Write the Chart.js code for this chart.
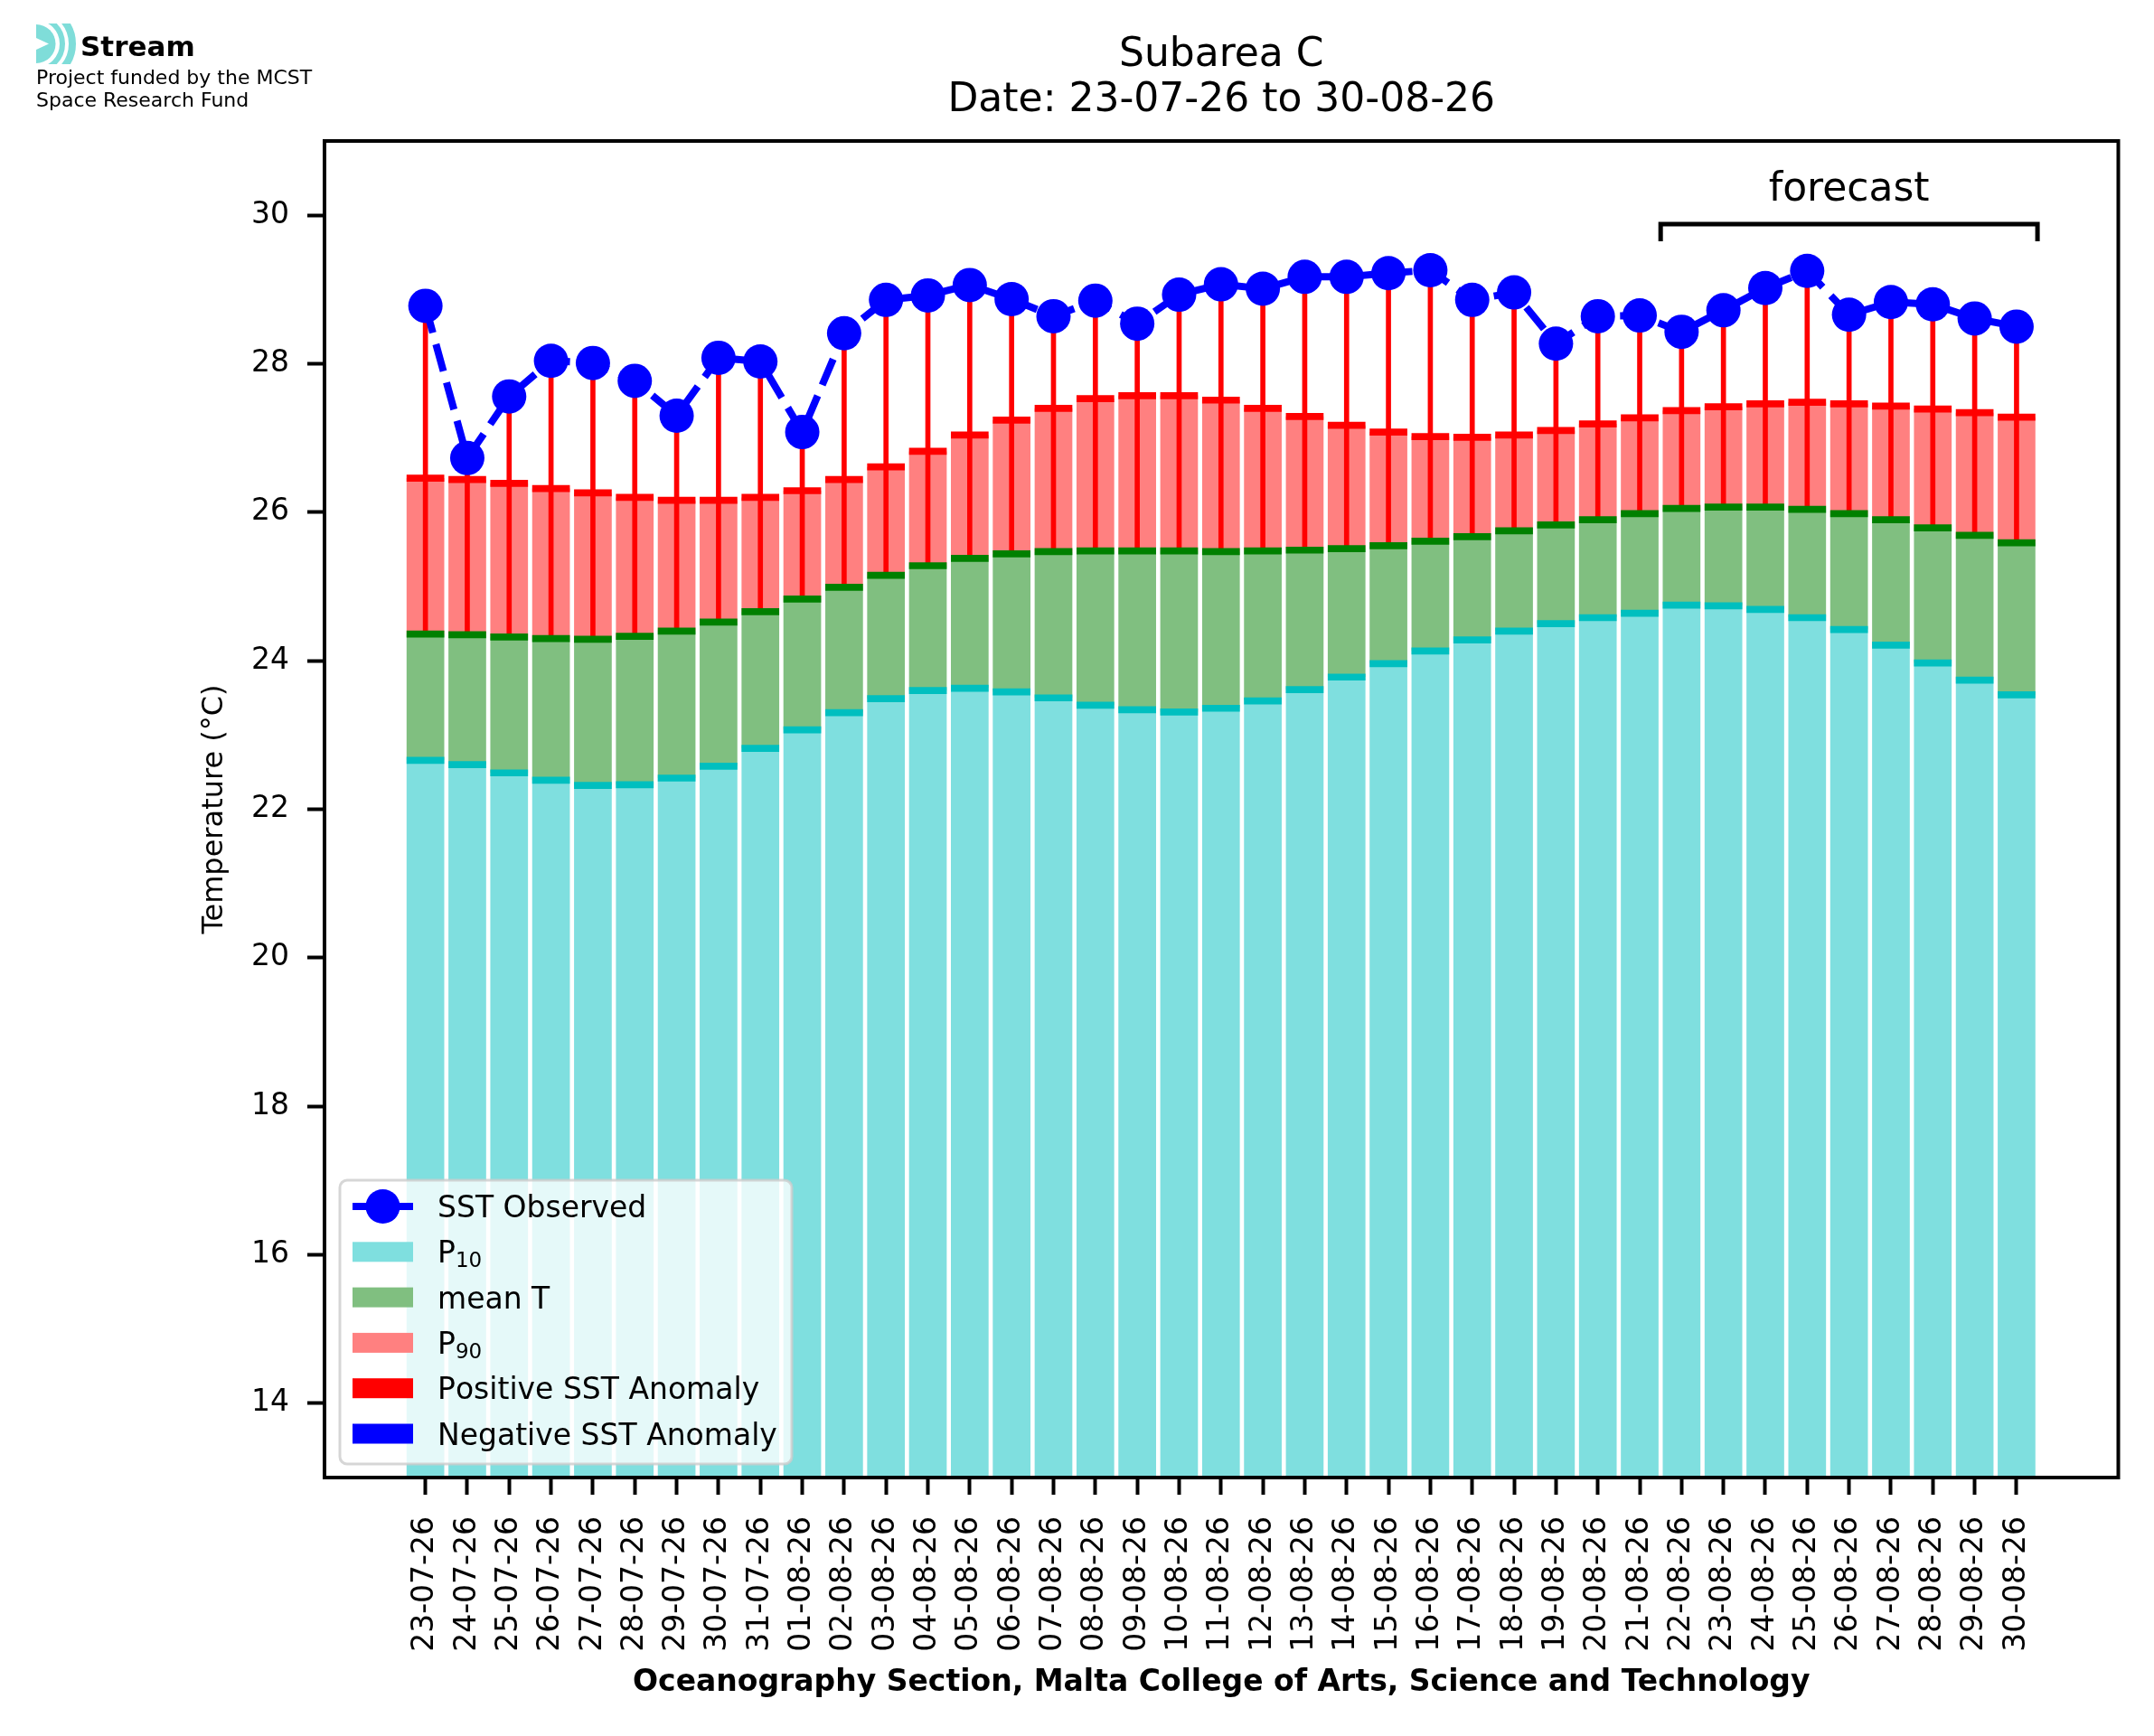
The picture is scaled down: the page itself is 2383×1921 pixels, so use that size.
<!DOCTYPE html>
<html>
<head>
<meta charset="utf-8">
<title>Subarea C</title>
<script src="https://cdn.jsdelivr.net/npm/chart.js@4.4.1/dist/chart.umd.min.js"></script>
<style>
  html, body { margin: 0; padding: 0; background: #fff; overflow: hidden; }
  canvas { display: block; }
</style>
</head>
<body>
<canvas id="sstChart" width="2383" height="1921"></canvas>
<script>
var dates = ['23-07-26', '24-07-26', '25-07-26', '26-07-26', '27-07-26', '28-07-26', '29-07-26',
  '30-07-26', '31-07-26', '01-08-26', '02-08-26', '03-08-26', '04-08-26', '05-08-26', '06-08-26',
  '07-08-26', '08-08-26', '09-08-26', '10-08-26', '11-08-26', '12-08-26', '13-08-26', '14-08-26',
  '15-08-26', '16-08-26', '17-08-26', '18-08-26', '19-08-26', '20-08-26', '21-08-26', '22-08-26',
  '23-08-26', '24-08-26', '25-08-26', '26-08-26', '27-08-26', '28-08-26', '29-08-26', '30-08-26'];

var sstObserved = [28.78, 26.73, 27.56, 28.04, 28.01, 27.77, 27.30, 28.08, 28.03, 27.08,
  28.41, 28.86, 28.92, 29.06, 28.87, 28.64, 28.85, 28.54, 28.93, 29.07,
  29.01, 29.17, 29.17, 29.22, 29.26, 28.86, 28.96, 28.27, 28.64, 28.65,
  28.43, 28.72, 29.02, 29.25, 28.66, 28.83, 28.80, 28.61, 28.50];

var p10 = [22.66, 22.60, 22.49, 22.39, 22.32, 22.33, 22.42, 22.58, 22.82, 23.07,
  23.30, 23.49, 23.60, 23.63, 23.58, 23.50, 23.40, 23.34, 23.31, 23.36,
  23.46, 23.61, 23.78, 23.96, 24.13, 24.28, 24.40, 24.50, 24.58, 24.64,
  24.75, 24.74, 24.69, 24.58, 24.42, 24.21, 23.97, 23.74, 23.54];

var meanT = [24.36, 24.35, 24.32, 24.30, 24.29, 24.33, 24.40, 24.52, 24.66, 24.83,
  24.99, 25.15, 25.28, 25.38, 25.44, 25.47, 25.48, 25.48, 25.48, 25.47,
  25.48, 25.49, 25.51, 25.55, 25.61, 25.67, 25.75, 25.83, 25.90, 25.98,
  26.05, 26.07, 26.07, 26.04, 25.98, 25.90, 25.79, 25.69, 25.59];

var p90 = [26.46, 26.44, 26.39, 26.32, 26.26, 26.20, 26.16, 26.16, 26.20, 26.29,
  26.44, 26.61, 26.82, 27.04, 27.24, 27.40, 27.53, 27.57, 27.57, 27.51,
  27.40, 27.29, 27.17, 27.08, 27.02, 27.01, 27.04, 27.10, 27.19, 27.27,
  27.37, 27.42, 27.46, 27.48, 27.46, 27.43, 27.39, 27.34, 27.28];

var yTicks = [14, 16, 18, 20, 22, 24, 26, 28, 30];

var forecastStart = 30;   // 22-08-26 is the first forecast day
var edgeHalf = 0.047;     // half thickness of the dark edge lines, in degC

var legendOrder = ['SST Observed', 'P\u2081\u2080', 'mean T', 'P\u2089\u2080',
  'Positive SST Anomaly', 'Negative SST Anomaly'];

function points(vals) {
  return vals.map(function(v, i) { return {x: i, y: v}; });
}
function spans(lo, hi) {
  return lo.map(function(v, i) { return {x: i, y: [v, hi[i]]}; });
}
function edges(vals) {
  return vals.map(function(v, i) { return {x: i, y: [v - edgeHalf, v + edgeHalf]}; });
}

// anomaly sticks run from the mean to the observed value
var posAnomaly = sstObserved.map(function(v, i) {
  return {x: i, y: v > p90[i] ? [meanT[i], v] : null};
});
var negAnomaly = sstObserved.map(function(v, i) {
  return {x: i, y: v < p10[i] ? [v, meanT[i]] : null};
});

Chart.defaults.font.family = "'DejaVu Sans', sans-serif";
Chart.defaults.color = '#000';

// draws text, turning unicode subscript digits into small lowered digits
function subText(ctx, text, x, y, size) {
  var subs = '\u2080\u2081\u2082\u2083\u2084\u2085\u2086\u2087\u2088\u2089';
  for (var k = 0; k < text.length; k++) {
    var ch = text[k], s = subs.indexOf(ch);
    if (s >= 0) {
      ctx.font = Math.round(size * 0.7) + "px 'DejaVu Sans'";
      ctx.fillText(String(s), x, y + 5);
      x += ctx.measureText(String(s)).width;
    } else {
      ctx.font = size + "px 'DejaVu Sans'";
      ctx.fillText(ch, x, y);
      x += ctx.measureText(ch).width;
    }
  }
}

var decor = {
  id: 'decor',
  afterDraw: function(chart) {
    var ctx = chart.ctx, a = chart.chartArea;
    var xs = chart.scales.x, ys = chart.scales.y;
    ctx.save();

    // box round the axes
    ctx.strokeStyle = '#000';
    ctx.lineWidth = 4;
    ctx.strokeRect(a.left, a.top, a.right - a.left, a.bottom - a.top);

    // title
    var cx = (a.left + a.right) / 2;
    ctx.fillStyle = '#000';
    ctx.textAlign = 'center';
    ctx.textBaseline = 'alphabetic';
    ctx.font = "44px 'DejaVu Sans'";
    ctx.fillText('Subarea C', cx, 73);
    ctx.fillText('Date: ' + dates[0] + ' to ' + dates[dates.length - 1], cx, 123);

    // forecast bracket
    var x1 = xs.getPixelForValue(forecastStart - 0.5);
    var x2 = xs.getPixelForValue(dates.length - 0.5);
    var yb = ys.getPixelForValue(29.88), yt = ys.getPixelForValue(29.65);
    ctx.lineWidth = 5;
    ctx.lineJoin = 'miter';
    ctx.beginPath();
    ctx.moveTo(x1, yt); ctx.lineTo(x1, yb); ctx.lineTo(x2, yb); ctx.lineTo(x2, yt);
    ctx.stroke();
    ctx.fillText('forecast', (x1 + x2) / 2, ys.getPixelForValue(30.2));

    // legend
    var bx = a.left + 17, bw = 500, bh = 314, by = a.bottom - 15 - bh, r = 8;
    ctx.beginPath();
    ctx.moveTo(bx + r, by);
    ctx.arcTo(bx + bw, by, bx + bw, by + bh, r);
    ctx.arcTo(bx + bw, by + bh, bx, by + bh, r);
    ctx.arcTo(bx, by + bh, bx, by, r);
    ctx.arcTo(bx, by, bx + bw, by, r);
    ctx.closePath();
    ctx.fillStyle = 'rgba(255,255,255,0.8)';
    ctx.fill();
    ctx.strokeStyle = 'rgba(204,204,204,0.8)';
    ctx.lineWidth = 3;
    ctx.stroke();

    ctx.textAlign = 'left';
    legendOrder.forEach(function(label, i) {
      var ds = chart.data.datasets.find(function(d) { return d.label === label; });
      var cy = by + 29 + i * 50.3;
      if (ds.type === 'line') {
        ctx.strokeStyle = ds.borderColor;
        ctx.lineWidth = ds.borderWidth;
        ctx.beginPath();
        ctx.moveTo(bx + 14, cy); ctx.lineTo(bx + 81, cy);
        ctx.stroke();
        ctx.fillStyle = ds.pointBackgroundColor;
        ctx.beginPath();
        ctx.arc(bx + 47.5, cy, ds.pointRadius, 0, Math.PI * 2);
        ctx.fill();
      } else {
        ctx.fillStyle = ds.backgroundColor;
        ctx.fillRect(bx + 14, cy - 11, 67, 22);
      }
      ctx.fillStyle = '#000';
      subText(ctx, label, bx + 108, cy + 12, 33);
    });

    // logo
    var logo = '#7fddd9';
    ctx.save();
    ctx.beginPath();
    ctx.rect(40, 26, 46, 45);
    ctx.clip();
    ctx.fillStyle = logo;
    ctx.beginPath();
    ctx.arc(40, 48.5, 21.5, -Math.PI / 2, Math.PI / 2);
    ctx.closePath();
    ctx.fill();
    ctx.fillStyle = '#fff';
    ctx.beginPath();
    ctx.moveTo(40, 42); ctx.lineTo(54, 48.5); ctx.lineTo(40, 55);
    ctx.closePath();
    ctx.fill();
    ctx.strokeStyle = logo;
    ctx.lineWidth = 6;
    ctx.beginPath();
    ctx.arc(40, 48.5, 29, -Math.PI / 2, Math.PI / 2);
    ctx.stroke();
    ctx.lineWidth = 8;
    ctx.beginPath();
    ctx.arc(40, 48.5, 40, -Math.PI / 2, Math.PI / 2);
    ctx.stroke();
    ctx.restore();

    ctx.fillStyle = '#000';
    ctx.textAlign = 'left';
    ctx.font = "bold 31px 'DejaVu Sans'";
    ctx.fillText('Stream', 89, 62);
    ctx.font = "22px 'DejaVu Sans'";
    ctx.fillText('Project funded by the MCST', 40, 93);
    ctx.fillText('Space Research Fund', 40, 118);

    ctx.restore();
  }
};

new Chart(document.getElementById('sstChart'), {
  type: 'bar',
  data: {
    datasets: [
      {
        type: 'line', label: 'SST Observed', data: points(sstObserved),
        borderColor: '#0000ff', borderWidth: 8, borderDash: [31, 13], fill: false, tension: 0,
        pointRadius: 19, pointBackgroundColor: '#0000ff', pointBorderWidth: 0, order: 0
      },
      { label: 'Positive SST Anomaly', data: posAnomaly, backgroundColor: '#ff0000', barThickness: 5, order: 2 },
      { label: 'Negative SST Anomaly', data: negAnomaly, backgroundColor: '#0000ff', barThickness: 5, order: 2 },
      { data: edges(p90), backgroundColor: '#ff0000', order: 1 },
      { data: edges(meanT), backgroundColor: '#008000', order: 1 },
      { data: edges(p10), backgroundColor: '#00bfbf', order: 1 },
      { label: 'P\u2081\u2080', data: points(p10), backgroundColor: '#7fdfdf', order: 3 },
      { label: 'mean T', data: spans(p10, meanT), backgroundColor: '#80bf80', order: 3 },
      { label: 'P\u2089\u2080', data: spans(meanT, p90), backgroundColor: '#ff8080', order: 3 }
    ]
  },
  options: {
    responsive: false,
    animation: false,
    devicePixelRatio: 1,
    layout: { padding: { left: 214, right: 39.5, top: 156, bottom: 35 } },
    datasets: {
      bar: { grouped: false, barPercentage: 0.9, categoryPercentage: 1, borderWidth: 0 }
    },
    plugins: {
      legend: { display: false },
      tooltip: { enabled: false },
      title: { display: false }
    },
    scales: {
      x: {
        type: 'linear', min: -2.41, max: 40.43, offset: false,
        border: { display: false },
        grid: { offset: false, drawOnChartArea: false, tickLength: 19, tickWidth: 4, tickColor: '#000' },
        afterBuildTicks: function(s) { s.ticks = dates.map(function(d, i) { return {value: i}; }); },
        afterFit: function(s) { s.height = 251; s.paddingLeft = 0; s.paddingRight = 0; },
        ticks: {
          autoSkip: false, minRotation: 90, maxRotation: 90, padding: 24,
          font: { size: 33 }, color: '#000',
          callback: function(v) { return dates[v]; }
        },
        title: {
          display: true, color: '#000',
          text: 'Oceanography Section, Malta College of Arts, Science and Technology',
          font: { size: 33, weight: 'bold' }
        }
      },
      y: {
        min: 13, max: 31,
        border: { display: false },
        grid: { drawOnChartArea: false, tickLength: 19, tickWidth: 4, tickColor: '#000' },
        afterBuildTicks: function(s) { s.ticks = yTicks.map(function(v) { return {value: v}; }); },
        afterFit: function(s) { s.width = 145; s.paddingTop = 0; s.paddingBottom = 0; },
        ticks: { padding: 20, font: { size: 33 }, color: '#000' },
        title: { display: true, text: 'Temperature (\u00b0C)', font: { size: 32 }, color: '#000' }
      }
    }
  },
  plugins: [decor]
});
</script>
</body>
</html>
